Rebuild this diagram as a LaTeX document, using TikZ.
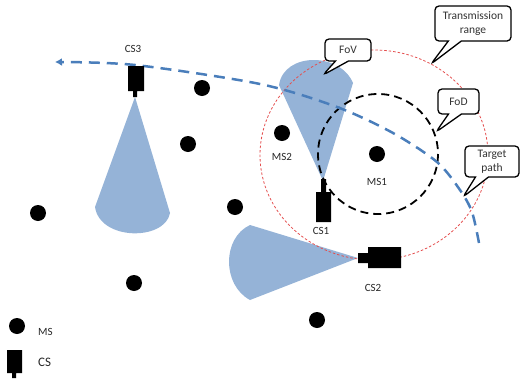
\documentclass[tikz,border=0pt]{standalone}
\usepackage{fontspec}
\setmainfont{Carlito}
\usetikzlibrary{arrows.meta,shapes.callouts}
\definecolor{conefill}{RGB}{149,179,215}
\definecolor{pathblue}{RGB}{74,126,187}
\definecolor{rangered}{RGB}{228,78,78}

\begin{document}
\begin{tikzpicture}[x=1pt,y=-1pt,
        ms/.style={fill=black},
        cam/.style={fill=black},
        cone/.style={fill=conefill},
        lbl/.style={inner sep=0pt,font=\fontsize{11}{13}\selectfont,text=black!85},
        bubble/.style={rectangle callout,draw=black,fill=white,line width=1.3pt,
            rounded corners=4pt,align=center,inner sep=1pt,callout pointer width=13pt,
            font=\fontsize{11.5}{14}\selectfont,text=black!80}]
        \useasboundingbox (0,0) rectangle (520,378);
        %% Fields of view
        \fill[cone] (135,97) -- (95,207) .. controls (100,241) and (165,241) .. (170,213) -- cycle;
        \fill[cone] (323,181) -- (279,85) .. controls (284,52) and (340,52) .. (353,83) -- cycle;
        \fill[cone] (358,258) -- (250,225) .. controls (222,238) and (222,285) .. (250,300) -- cycle;
        %% Ranges
        \draw[rangered,line width=0.8pt,dash pattern=on 2.5pt off 2pt] (374,155) ellipse [x radius=114,y radius=105];
        \draw[line width=1.8pt,dash pattern=on 8pt off 5pt] (378,154) circle [radius=60];
        %% Target path
        \draw[pathblue,line width=2.5pt,dash pattern=on 11pt off 7pt,-{Latex[length=7pt,width=8pt]}]
            plot[smooth] coordinates {(479,243) (472,212) (460,190) (437,162) (393,133) (337,107) (260,84) (135,65) (55,62)};
        %% Cameras
        \fill[cam] (128,66) rectangle (144,91) (133,91) rectangle (137,97);
        \fill[cam] (316,192) rectangle (331,222) (321,179) rectangle (326,192);
        \fill[cam] (368,247) rectangle (401,268) (358,253) rectangle (368,263);
        %% Mobile sensors
        \fill[ms] (202,88) circle [radius=8];
        \fill[ms] (188,144) circle [radius=8];
        \fill[ms] (282,133) circle [radius=8];
        \fill[ms] (377,154) circle [radius=8];
        \fill[ms] (38,213) circle [radius=8];
        \fill[ms] (235,207) circle [radius=8];
        \fill[ms] (134,283) circle [radius=8];
        \fill[ms] (317,320) circle [radius=8];
        %% Labels
        \node[lbl] (cs3) at (133,49) {CS3};
        \node[lbl] (cs1) at (321,231) {CS1};
        \node[lbl] (cs2) at (373,288) {CS2};
        \node[lbl] (ms2) at (282,157) {MS2};
        \node[lbl] (ms1) at (377,182) {MS1};
        %% Callouts
        \coordinate (rangetip) at (431,64);
        \coordinate (fovtip) at (323,75);
        \coordinate (fodtip) at (436,132);
        \coordinate (pathtip) at (463,197);
        \node[bubble,minimum width=76pt,minimum height=35pt,callout absolute pointer={(rangetip)}] (range) at (473,23.5) {Transmission\\range};
        \node[bubble,minimum width=46pt,minimum height=22pt,callout absolute pointer={(fovtip)}] (fov) at (348,50) {FoV};
        \node[bubble,minimum width=41pt,minimum height=25pt,callout absolute pointer={(fodtip)}] (fod) at (458.5,101.5) {FoD};
        \node[bubble,minimum width=54pt,minimum height=31pt,callout absolute pointer={(pathtip)}] (target) at (492,161.5) {Target\\path};
        %% Legend
        \fill[ms] (17,326) circle [radius=8];
        \node[lbl,anchor=west] (msleg) at (38,331.5) {MS};
        \fill[cam] (7,350) rectangle (22,373) (12,373) rectangle (16,378);
        \node[lbl,anchor=west,font=\fontsize{13}{15}\selectfont] (csleg) at (38,362) {CS};
    \end{tikzpicture}
\end{document}
